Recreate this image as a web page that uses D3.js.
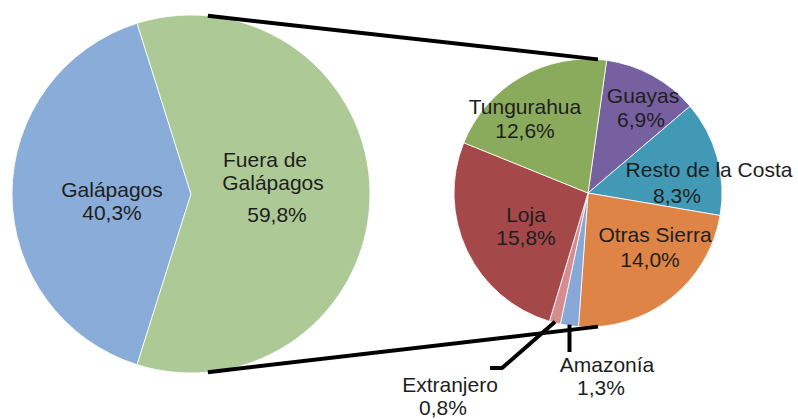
<!DOCTYPE html>
<html>
<head>
<meta charset="utf-8">
<script src="https://cdn.jsdelivr.net/npm/d3@7"></script>
<style>
  body { margin: 0; background: #fff; }
  text { font-family: "Liberation Sans", Arial, sans-serif; font-size: 21px; fill: #1e1e1e; }
</style>
</head>
<body>
<div id="vis"></div>
<script>
// pie of pie: origen de ... (Galápagos vs fuera)
const mainNames = ["Galápagos", "Fuera de Galápagos"];
const mainValues = [40.3, 59.8];
const mainColors = ["#8aacd8", "#adc995"];

const subNames = ["Guayas", "Resto de la Costa", "Otras Sierra", "Amazonía", "Extranjero", "Loja", "Tungurahua"];
const subValues = [6.9, 8.3, 14.0, 1.3, 0.8, 15.8, 12.6];
const subColors = ["#7660a0", "#4299b5", "#dd8446", "#88a8d8", "#d48c8e", "#a4484a", "#8aab5c"];

const width = 798, height = 419;
const fmt = v => d3.format(".1f")(v).replace(".", ",") + "%";

const svg = d3.select("#vis").append("svg").attr("width", width).attr("height", height);

// left pie
const left = {cx: 191, cy: 194, r: 179};
const span = 2 * Math.PI * mainValues[0] / d3.sum(mainValues);
const leftStart = -Math.PI / 2 - span / 2;
const leftPie = d3.pie().sort(null).startAngle(leftStart).endAngle(leftStart + 2 * Math.PI);
const leftArc = d3.arc().innerRadius(0).outerRadius(left.r);
const leftArcs = leftPie(mainValues);

const gl = svg.append("g").attr("transform", `translate(${left.cx},${left.cy})`);
gl.selectAll("path").data(leftArcs).enter().append("path")
    .attr("d", leftArc)
    .attr("fill", (d, i) => mainColors[i])
    .attr("stroke", "#fff").attr("stroke-width", 0.8);

// right pie
const right = {cx: 588, cy: 193, r: 134};
const rightStart = 8 * Math.PI / 180;
const rightPie = d3.pie().sort(null).startAngle(rightStart).endAngle(rightStart + 2 * Math.PI);
const rightArc = d3.arc().innerRadius(0).outerRadius(right.r);
const rightArcs = rightPie(subValues);

const gr = svg.append("g").attr("transform", `translate(${right.cx},${right.cy})`);
gr.selectAll("path").data(rightArcs).enter().append("path")
    .attr("d", rightArc)
    .attr("fill", (d, i) => subColors[i])
    .attr("stroke", "#fff").attr("stroke-width", 0.8);

// connector lines between the pies
const pt = (c, a, rr) => [c.cx + (rr || c.r) * Math.sin(a), c.cy - (rr || c.r) * Math.cos(a)];
const deg = d => d * Math.PI / 180;
const connectors = [
  [pt(left, deg(5.4)), pt(right, deg(4.3))],
  [pt(left, deg(174.6)), pt(right, deg(175.7))]
];
svg.selectAll("line.conn").data(connectors).enter().append("line")
    .attr("class", "conn")
    .attr("x1", d => d[0][0]).attr("y1", d => d[0][1])
    .attr("x2", d => d[1][0]).attr("y2", d => d[1][1])
    .attr("stroke", "#000").attr("stroke-width", 4);

// leader lines for the tiny slices
const mid = d => (d.startAngle + d.endAngle) / 2;
const amaz = rightArcs[3], extr = rightArcs[4];
const pa = pt(right, mid(amaz), right.r - 1);
const pe = pt(right, mid(extr), right.r - 1);
const leaders = [
  [pa, [pa[0], 352]],
  [pe, [502, 368], [490, 368]]
];
svg.selectAll("path.leader").data(leaders).enter().append("path")
    .attr("class", "leader")
    .attr("d", d => d3.line()(d))
    .attr("fill", "none").attr("stroke", "#000").attr("stroke-width", 4);

// labels (line positions in px)
const labels = [
  {lines: ["Galápagos", fmt(mainValues[0])], pos: [[112, 197], [112, 220]]},
  {lines: ["Fuera de", "Galápagos", fmt(mainValues[1])], pos: [[265, 167], [273, 190], [277, 222]]},
  {lines: [subNames[0], fmt(subValues[0])], pos: [[643, 103], [641, 127]]},
  {lines: [subNames[1], fmt(subValues[1])], pos: [[709, 177], [677, 203]]},
  {lines: [subNames[2], fmt(subValues[2])], pos: [[655, 242], [650, 267]]},
  {lines: [subNames[3], fmt(subValues[3])], pos: [[607, 372], [601, 395]]},
  {lines: [subNames[4], fmt(subValues[4])], pos: [[450, 392], [443, 415]]},
  {lines: [subNames[5], fmt(subValues[5])], pos: [[526, 222], [526, 245]]},
  {lines: [subNames[6], fmt(subValues[6])], pos: [[525, 114], [525, 138]]}
];
labels.forEach(l => {
  l.lines.forEach((t, i) => {
    svg.append("text")
        .attr("x", l.pos[i][0]).attr("y", l.pos[i][1])
        .attr("text-anchor", "middle")
        .text(t);
  });
});
</script>
</body>
</html>
